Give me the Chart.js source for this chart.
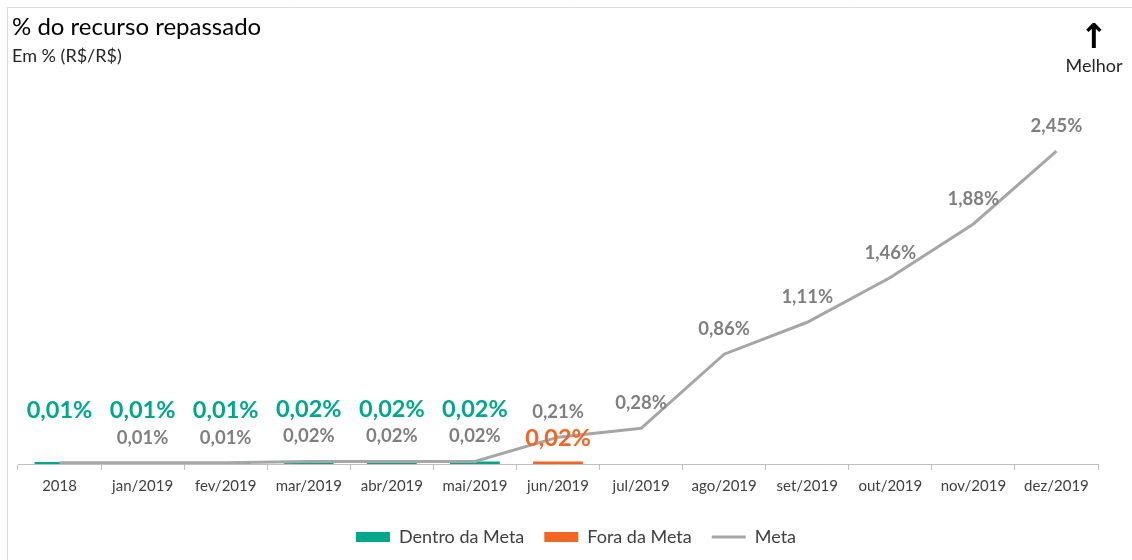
<!DOCTYPE html>
<html lang="pt-BR">
<head>
<meta charset="utf-8">
<title>% do recurso repassado</title>
<script src="https://cdn.jsdelivr.net/npm/chart.js@4"></script>
<style>
  html, body { margin: 0; padding: 0; background: #fff; }
  #wrap { position: relative; width: 1132px; height: 560px; }
</style>
</head>
<body>
<div id="wrap"><canvas id="repasseChart" width="1132" height="560"></canvas></div>
<script>
var categorias = ['2018', 'jan/2019', 'fev/2019', 'mar/2019', 'abr/2019', 'mai/2019', 'jun/2019',
    'jul/2019', 'ago/2019', 'set/2019', 'out/2019', 'nov/2019', 'dez/2019'];
var dentroDaMeta = [0.01, 0.01, 0.01, 0.02, 0.02, 0.02, null, null, null, null, null, null, null];
var foraDaMeta = [null, null, null, null, null, null, 0.02, null, null, null, null, null, null];
var meta = [0.01, 0.01, 0.01, 0.02, 0.02, 0.02, 0.21, 0.28, 0.86, 1.11, 1.46, 1.88, 2.45];
var metaSemRotulo = [0]; // 2018 sem rótulo de meta

var VERDE = '#00A88A';
var LARANJA = '#F26522';
var CINZA_LINHA = '#A6A6A6';
var CINZA_TEXTO = '#7F7F7F';
var FONTE = 'Lato, "Open Sans", sans-serif';

function pct(v) {
    return v.toFixed(2).replace('.', ',') + '%';
}

// desenha moldura, título, seta "Melhor" e rótulos dos dados
var extras = {
    id: 'extras',
    afterLayout: function (chart) {
        // legenda centralizada na página, não na área do gráfico
        if (chart.legend) {
            chart.legend.left += 18;
            chart.legend.right += 18;
        }
    },
    beforeDraw: function (chart) {
        var ctx = chart.ctx;
        ctx.save();
        ctx.fillStyle = '#fff';
        ctx.fillRect(0, 0, chart.width, chart.height);
        ctx.strokeStyle = '#D9D9D9';
        ctx.lineWidth = 1;
        ctx.beginPath();
        ctx.moveTo(7.5, chart.height);
        ctx.lineTo(7.5, 7.5);
        ctx.lineTo(chart.width, 7.5);
        ctx.stroke();

        ctx.fillStyle = '#000';
        ctx.textAlign = 'left';
        ctx.textBaseline = 'alphabetic';
        ctx.font = '24px ' + FONTE;
        ctx.fillText('% do recurso repassado', 12, 35);
        ctx.fillStyle = '#262626';
        ctx.font = '18px ' + FONTE;
        ctx.fillText('Em % (R$/R$)', 12, 62);

        ctx.textAlign = 'center';
        ctx.fillStyle = '#000';
        ctx.font = 'bold 34px "DejaVu Sans", sans-serif';
        ctx.fillText('\u2191', 1094, 48);
        ctx.fillStyle = '#262626';
        ctx.font = '18px ' + FONTE;
        ctx.fillText('Melhor', 1094, 72);
        ctx.restore();
    },
    afterDatasetsDraw: function (chart) {
        var ctx = chart.ctx;
        ctx.save();
        ctx.textAlign = 'center';
        ctx.textBaseline = 'middle';
        chart.data.datasets.forEach(function (ds, i) {
            var m = chart.getDatasetMeta(i);
            m.data.forEach(function (el, j) {
                var v = ds.data[j];
                if (v === null || v === undefined) return;
                if (ds.type === 'line') {
                    if (metaSemRotulo.indexOf(j) >= 0) return;
                    ctx.font = 'bold 18.5px ' + FONTE;
                    ctx.fillStyle = CINZA_TEXTO;
                    ctx.fillText(pct(v), el.x, el.y - 25);
                } else {
                    ctx.font = 'bold 23.5px ' + FONTE;
                    ctx.fillStyle = ds.backgroundColor;
                    ctx.fillText(pct(v), el.x, el.y - (ds.label === 'Fora da Meta' ? 23 : 52));
                }
            });
        });
        ctx.restore();
    }
};

var ctx = document.getElementById('repasseChart').getContext('2d');
var repasseChart = new Chart(ctx, {
    data: {
        labels: categorias,
        datasets: [
            {
                type: 'bar',
                label: 'Dentro da Meta',
                data: dentroDaMeta,
                backgroundColor: VERDE,
                borderWidth: 0,
                minBarLength: 2,
                pointStyle: 'rect',
                grouped: false,
                categoryPercentage: 1,
                barPercentage: 0.6,
                order: 1
            },
            {
                type: 'bar',
                label: 'Fora da Meta',
                data: foraDaMeta,
                backgroundColor: LARANJA,
                borderWidth: 0,
                minBarLength: 2,
                pointStyle: 'rect',
                grouped: false,
                categoryPercentage: 1,
                barPercentage: 0.6,
                order: 2
            },
            {
                type: 'line',
                label: 'Meta',
                data: meta,
                borderColor: CINZA_LINHA,
                backgroundColor: CINZA_LINHA,
                borderWidth: 3,
                pointRadius: 0,
                pointStyle: 'line',
                tension: 0,
                order: 0
            }
        ]
    },
    options: {
        responsive: false,
        animation: false,
        layout: {
            padding: { left: 18, right: 34, top: 132, bottom: 4 }
        },
        scales: {
            x: {
                offset: true,
                afterFit: function (scale) {
                    scale.height += 6; // espaço extra até a legenda
                },
                grid: {
                    offset: true,
                    drawOnChartArea: false,
                    drawTicks: true,
                    tickLength: 6,
                    color: '#BFBFBF'
                },
                border: { display: true, color: '#BFBFBF', width: 1 },
                ticks: {
                    color: '#404040',
                    padding: 7,
                    font: { family: FONTE, size: 15 }
                }
            },
            y: {
                display: false,
                min: 0,
                max: 2.6
            }
        },
        plugins: {
            legend: {
                position: 'bottom',
                labels: {
                    usePointStyle: true,
                    pointStyleWidth: 34,
                    boxHeight: 10,
                    padding: 20,
                    color: '#404040',
                    font: { family: FONTE, size: 18 },
                    sort: function (a, b) { return a.datasetIndex - b.datasetIndex; }
                }
            },
            tooltip: { enabled: false }
        }
    },
    plugins: [extras]
});
</script>
</body>
</html>
